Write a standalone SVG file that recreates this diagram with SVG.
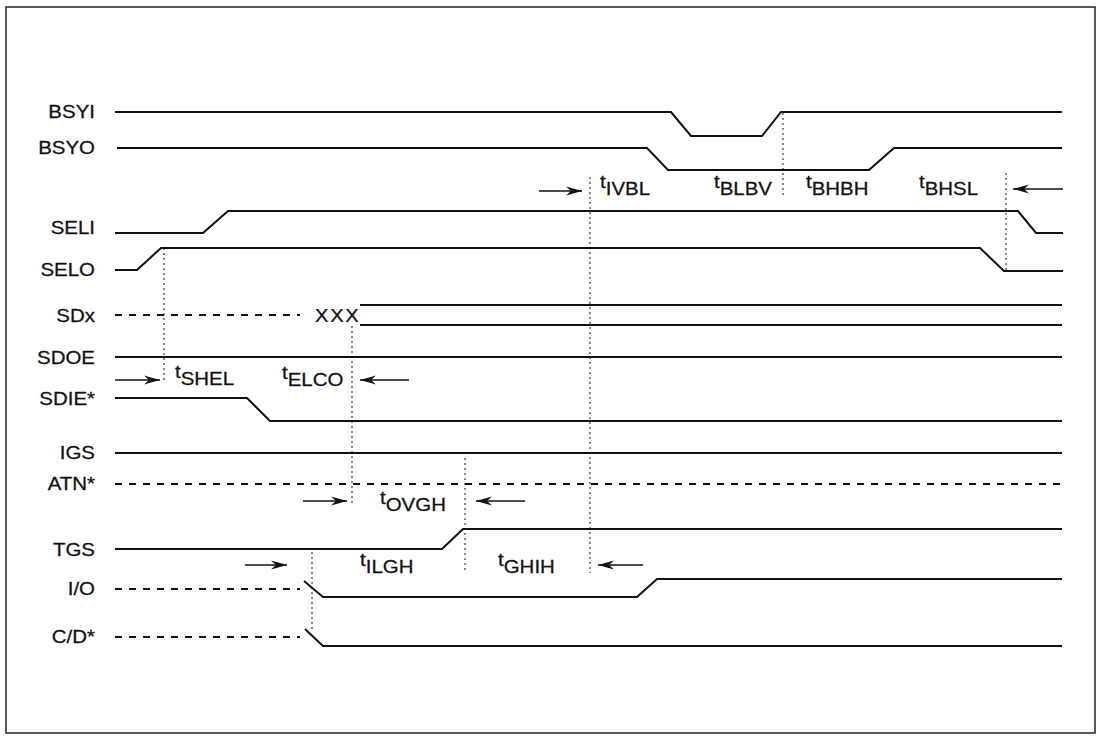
<svg xmlns="http://www.w3.org/2000/svg" width="1099" height="737" viewBox="0 0 1099 737">
<style>
.sig{fill:none;stroke:#111;stroke-width:2}
.dash{fill:none;stroke:#111;stroke-width:2;stroke-dasharray:7 7}
.dot{fill:none;stroke:#111;stroke-width:1;stroke-dasharray:2 3}
.arr{fill:none;stroke:#111;stroke-width:1.3}
.lbl{font-family:"Liberation Sans",Arial,sans-serif;font-size:17.5px;fill:#111;stroke:#111;stroke-width:0.25;text-anchor:end}
.tm{font-family:"Liberation Sans",Arial,sans-serif;font-size:17.5px;fill:#111;stroke:#111;stroke-width:0.25}
</style>
<defs>
<marker id="ah" markerWidth="17" markerHeight="10" refX="16" refY="5" orient="auto" markerUnits="userSpaceOnUse">
<path d="M0,0.5 L16,5 L0,9.5 L5,5 z" fill="#111"/>
</marker>
</defs>
<rect x="6" y="7" width="1089" height="726" fill="#fff" stroke="#222" stroke-width="1.5"/>

<g id="BSYI"><text class="lbl" transform="translate(95,118) scale(1.17,1)">BSYI</text><path class="sig" d="M115,112 H671 L691,136 H762 L781,112 H1062"/></g>
<g id="BSYO"><text class="lbl" transform="translate(95,154) scale(1.17,1)">BSYO</text><path class="sig" d="M117,148 H647 L668,170 H869 L894,148 H1062"/></g>
<g id="SELI"><text class="lbl" transform="translate(95,234) scale(1.17,1)">SELI</text><path class="sig" d="M115,233 H203 L228,211 H1018 L1036,233 H1063"/></g>
<g id="SELO"><text class="lbl" transform="translate(95,276) scale(1.17,1)">SELO</text><path class="sig" d="M115,270 H137 L161,248 H980 L1004,271 H1063"/></g>
<g id="SDx"><text class="lbl" transform="translate(95,322) scale(1.17,1)">SDx</text><path class="dash" d="M115,315 H300"/><text class="tm" transform="translate(315,322) scale(1.15,1)" letter-spacing="1.5">XXX</text><path class="sig" d="M360,305 H1062 M360,325 H1062"/></g>
<g id="SDOE"><text class="lbl" transform="translate(95,364) scale(1.17,1)">SDOE</text><path class="sig" d="M115,357 H1062"/></g>
<g id="SDIE"><text class="lbl" transform="translate(95,405) scale(1.17,1)">SDIE*</text><path class="sig" d="M115,398 H247 L270,421 H1062"/></g>
<g id="IGS"><text class="lbl" transform="translate(95,459) scale(1.17,1)">IGS</text><path class="sig" d="M115,453 H1062"/></g>
<g id="ATN"><text class="lbl" transform="translate(95,490) scale(1.17,1)">ATN*</text><path class="dash" d="M115,484 H1062"/></g>
<g id="TGS"><text class="lbl" transform="translate(95,556) scale(1.17,1)">TGS</text><path class="sig" d="M115,549 H442 L463,529 H1062"/></g>
<g id="IO"><text class="lbl" transform="translate(95,595) scale(1.17,1)">I/O</text><path class="dash" d="M115,589 H300"/><path class="sig" d="M304,581 L323,597 H637 L657,579 H1062"/></g>
<g id="CD"><text class="lbl" transform="translate(95,643) scale(1.17,1)">C/D*</text><path class="dash" d="M115,637 H300"/><path class="sig" d="M305,629 L323,646 H1062"/></g>

<g id="connectors">
<path class="dot" d="M164,248 V382"/>
<path class="dot" d="M352,326 V503"/>
<path class="dot" d="M590,177 V573"/>
<path class="dot" d="M783,113 V197"/>
<path class="dot" d="M1006,173 V272"/>
<path class="dot" d="M465,458 V573"/>
<path class="dot" d="M312,552 V629"/>
<path class="arr" d="M539,191 H582" marker-end="url(#ah)"/>
<path class="arr" d="M1063,189 H1013" marker-end="url(#ah)"/>
<path class="arr" d="M115,380 H160" marker-end="url(#ah)"/>
<path class="arr" d="M409,380 H360" marker-end="url(#ah)"/>
<path class="arr" d="M303,501 H347" marker-end="url(#ah)"/>
<path class="arr" d="M525,501 H476" marker-end="url(#ah)"/>
<path class="arr" d="M245,565 H287" marker-end="url(#ah)"/>
<path class="arr" d="M643,565 H598" marker-end="url(#ah)"/>
</g>

<g id="timings">
<text class="tm" transform="translate(600,195) scale(1.17,1)"><tspan dy="-7">t</tspan><tspan dy="7">IVBL</tspan></text>
<text class="tm" transform="translate(714,195) scale(1.17,1)"><tspan dy="-7">t</tspan><tspan dy="7">BLBV</tspan></text>
<text class="tm" transform="translate(806,195) scale(1.17,1)"><tspan dy="-7">t</tspan><tspan dy="7">BHBH</tspan></text>
<text class="tm" transform="translate(919,195) scale(1.17,1)"><tspan dy="-7">t</tspan><tspan dy="7">BHSL</tspan></text>
<text class="tm" transform="translate(175,385) scale(1.17,1)"><tspan dy="-7">t</tspan><tspan dy="7">SHEL</tspan></text>
<text class="tm" transform="translate(282,386) scale(1.17,1)"><tspan dy="-7">t</tspan><tspan dy="7">ELCO</tspan></text>
<text class="tm" transform="translate(380,511) scale(1.17,1)"><tspan dy="-7">t</tspan><tspan dy="7">OVGH</tspan></text>
<text class="tm" transform="translate(360,573) scale(1.17,1)"><tspan dy="-7">t</tspan><tspan dy="7">ILGH</tspan></text>
<text class="tm" transform="translate(498,573) scale(1.17,1)"><tspan dy="-7">t</tspan><tspan dy="7">GHIH</tspan></text>
</g>
</svg>
